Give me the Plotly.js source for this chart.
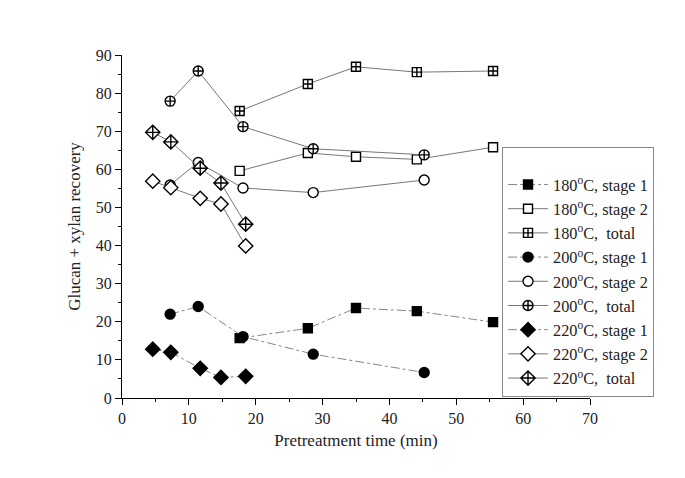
<!DOCTYPE html>
<html>
<head>
<meta charset="utf-8">
<script src="https://cdn.plot.ly/plotly-3.0.1.min.js"></script>
<style>html,body{margin:0;padding:0;background:#fff;}#chart{width:685px;height:478px;}</style>
</head>
<body>
<div id="chart"></div>
<script>
// Data
const x180 = [17.6, 27.8, 35.0, 44.1, 55.5];
const y180_stage1 = [15.7, 18.3, 23.6, 22.8, 19.9];
const y180_stage2 = [59.6, 64.3, 63.3, 62.6, 65.8];
const y180_total  = [75.3, 82.4, 86.9, 85.5, 85.8];

const x200 = [7.2, 11.4, 18.1, 28.6, 45.2];
const y200_stage1 = [22.0, 24.0, 16.1, 11.5, 6.7];
const y200_stage2 = [55.9, 61.8, 55.1, 53.9, 57.2];
const y200_total  = [77.9, 85.8, 71.2, 65.4, 63.8];

const x220 = [4.6, 7.3, 11.7, 14.8, 18.5];
const y220_stage1 = [12.8, 12.0, 7.8, 5.4, 5.7];
const y220_stage2 = [56.9, 55.2, 52.4, 50.9, 39.9];
const y220_total  = [69.7, 67.2, 60.3, 56.4, 45.6];

const names = [
  '180<sup>o</sup>C, stage 1', '180<sup>o</sup>C, stage 2', '180<sup>o</sup>C,  total',
  '200<sup>o</sup>C, stage 1', '200<sup>o</sup>C, stage 2', '200<sup>o</sup>C,  total',
  '220<sup>o</sup>C, stage 1', '220<sup>o</sup>C, stage 2', '220<sup>o</sup>C,  total'
];

function tr(x, y, name, symbol, fill, dash, size) {
  return {
    x: x, y: y, name: name, type: 'scatter', mode: 'lines+markers',
    line: {color: dash === 'solid' ? '#777' : '#888', width: 1, dash: dash},
    marker: {symbol: symbol, size: size, color: fill, line: {color: 'black', width: 1.4}}
  };
}

const data = [
  tr(x180, y180_stage1, names[0], 'square', 'black', 'dashdot', 9),
  tr(x180, y180_stage2, names[1], 'square', 'white', 'solid', 9),
  tr(x180, y180_total,  names[2], 'square-cross', 'white', 'solid', 9),
  tr(x200, y200_stage1, names[3], 'circle', 'black', 'dashdot', 10),
  tr(x200, y200_stage2, names[4], 'circle', 'white', 'solid', 10),
  tr(x200, y200_total,  names[5], 'circle-cross', 'white', 'solid', 10),
  tr(x220, y220_stage1, names[6], 'diamond', 'black', 'dashdot', 11),
  tr(x220, y220_stage2, names[7], 'diamond', 'white', 'solid', 11),
  tr(x220, y220_total,  names[8], 'diamond-cross', 'white', 'solid', 11)
];

const fontFam = '"Liberation Serif", "Times New Roman", serif';
const axisCommon = {
  showline: true, linecolor: 'black', linewidth: 1, mirror: false,
  ticks: 'outside', ticklen: 6, tickwidth: 1, tickcolor: 'black',
  showgrid: false, zeroline: false,
  tickfont: {family: fontFam, size: 16, color: '#222'}
};

const layout = {
  width: 685, height: 478,
  margin: {l: 122, r: 95, t: 55, b: 80},
  paper_bgcolor: 'white', plot_bgcolor: 'white',
  font: {family: fontFam, color: '#222'},
  showlegend: true,
  legend: {
    x: 0.812, xanchor: 'left', y: 0.732, yanchor: 'top',
    bordercolor: '#888', borderwidth: 1, bgcolor: 'white',
    itemwidth: 40,
    font: {family: fontFam, size: 16.3, color: '#222'},
    title: {text: ' ', font: {size: 15}}
  },
  xaxis: Object.assign({}, axisCommon, {
    range: [0, 70], dtick: 10, tick0: 0,
    minor: {dtick: 5, ticklen: 3, tickcolor: 'black', showgrid: false},
    title: {text: 'Pretreatment time (min)', font: {family: fontFam, size: 17, color: '#222'}, standoff: 7}
  }),
  yaxis: Object.assign({}, axisCommon, {
    range: [0, 90], dtick: 10, tick0: 0,
    minor: {dtick: 5, ticklen: 3, tickcolor: 'black', showgrid: false},
    title: {text: 'Glucan + xylan recovery', font: {family: fontFam, size: 17, color: '#222'}, standoff: 10}
  })
};

Plotly.newPlot('chart', data, layout, {displayModeBar: false, staticPlot: true});
</script>
</body>
</html>
